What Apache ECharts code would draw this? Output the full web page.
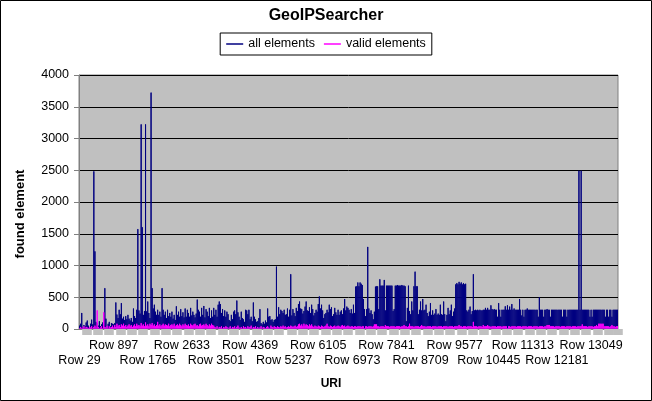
<!DOCTYPE html>
<html>
<head>
<meta charset="utf-8">
<title>GeoIPSearcher</title>
<script src="https://cdn.jsdelivr.net/npm/echarts@6/dist/echarts.min.js"></script>
<style>
    html, body { margin: 0; padding: 0; background: #fff; }
    #chart { width: 652px; height: 401px; }
</style>
</head>
<body>
<div id="chart"></div>
<script>
var FONT = '"Liberation Sans", Arial, sans-serif';

// each plotted column stands for 28 spreadsheet rows, starting at row 29
var firstRow = 29;
var rowStep = 28;

var tickLabels = ['Row 29', 'Row 897', 'Row 1765', 'Row 2633', 'Row 3501', 'Row 4369',
    'Row 5237', 'Row 6105', 'Row 6973', 'Row 7841', 'Row 8709', 'Row 9577',
    'Row 10445', 'Row 11313', 'Row 12181', 'Row 13049'];

var allElements = [
    60, 90, 260, 40, 70, 50, 110, 140, 60, 30,
    90, 155, 80, 2490, 1230, 120, 100, 60, 130, 50,
    80, 110, 70, 650, 170, 60, 90, 120, 50, 100,
    90, 80, 100, 425, 235, 180, 310, 240, 415, 170,
    200, 150, 210, 160, 230, 170, 140, 180, 120, 330,
    210, 180, 310, 1580, 300, 250, 3230, 1610, 230, 290,
    3230, 285, 440, 260, 180, 3730, 650, 330, 390, 280,
    230, 310, 230, 280, 200, 650, 310, 230, 280, 180,
    310, 210, 260, 200, 280, 170, 230, 150, 365, 230,
    280, 200, 320, 210, 270, 190, 330, 200, 310, 260,
    200, 340, 220, 280, 230, 190, 250, 470, 310, 280,
    200, 340, 230, 370, 190, 320, 280, 210, 340, 180,
    300, 200, 340, 230, 310, 200, 390, 440, 400, 260,
    320, 210, 300, 200, 280, 240, 150, 130, 230, 160,
    280, 300, 240, 455, 270, 200, 150, 280, 180, 160,
    120, 310, 300, 240, 310, 160, 200, 130, 425, 200,
    160, 120, 130, 180, 320, 100, 80, 120, 90, 140,
    110, 330, 200, 210, 150, 160, 120, 150, 160, 990,
    200, 350, 240, 310, 290, 260, 310, 230, 240, 330,
    200, 310, 870, 220, 320, 260, 210, 340, 290, 400,
    440, 330, 320, 250, 290, 360, 440, 300, 290, 350,
    260, 390, 320, 220, 260, 310, 280, 400, 520, 330,
    390, 300, 180, 240, 260, 310, 270, 390, 320, 350,
    210, 240, 340, 270, 230, 310, 230, 280, 300, 240,
    330, 480, 300, 360, 340, 310, 260, 320, 250, 390,
    260, 675, 680, 740, 680, 740, 720, 700, 480, 320,
    210, 320, 1300, 330, 260, 300, 240, 160, 280, 675,
    680, 680, 320, 790, 690, 690, 690, 780, 300, 690,
    690, 690, 690, 690, 690, 290, 320, 690, 690, 700,
    690, 690, 690, 700, 690, 690, 680, 130, 340, 690,
    290, 240, 440, 300, 680, 910, 680, 680, 240, 310,
    440, 300, 480, 300, 310, 390, 260, 210, 280, 415,
    230, 300, 230, 250, 320, 230, 250, 230, 390, 240,
    230, 440, 240, 130, 230, 340, 240, 300, 390, 210,
    280, 330, 710, 730, 710, 750, 720, 740, 710, 730,
    710, 720, 300, 280, 310, 360, 240, 290, 870, 300,
    310, 300, 310, 300, 310, 300, 300, 310, 310, 340,
    310, 340, 310, 310, 380, 320, 310, 320, 310, 310,
    200, 415, 310, 200, 310, 310, 310, 365, 310, 380,
    310, 360, 310, 400, 310, 330, 310, 310, 310, 310,
    480, 310, 220, 310, 200, 310, 310, 330, 310, 310,
    310, 310, 310, 310, 310, 310, 310, 200, 505, 310,
    310, 310, 200, 310, 310, 320, 310, 310, 200, 310,
    310, 310, 310, 310, 310, 310, 310, 310, 310, 200,
    310, 310, 310, 200, 310, 310, 310, 310, 310, 310,
    310, 310, 310, 310, 2500, 310, 2500, 310, 310, 310,
    310, 310, 310, 310, 200, 310, 200, 310, 310, 310,
    310, 310, 310, 310, 310, 310, 310, 310, 200, 310,
    310, 200, 310, 310, 200, 310, 310, 310, 310, 310
];

var validElements = [
    20, 40, 10, 30, 50, 20, 40, 30, 10, 40,
    30, 50, 20, 40, 60, 30, 300, 40, 20, 30,
    50, 20, 270, 40, 30, 60, 20, 50, 30, 40,
    60, 30, 70, 40, 90, 50, 70, 40, 80, 60,
    90, 50, 70, 40, 60, 80, 50, 70, 40, 60,
    80, 50, 90, 60, 70, 50, 100, 60, 80, 50,
    110, 60, 80, 50, 90, 70, 100, 60, 80, 50,
    70, 120, 60, 80, 50, 70, 90, 60, 80, 70,
    60, 90, 50, 70, 80, 60, 90, 50, 70, 80,
    60, 90, 70, 50, 80, 60, 90, 70, 60, 80,
    50, 90, 70, 60, 80, 90, 60, 70, 50, 80,
    90, 60, 70, 80, 60, 90, 70, 50, 80, 60,
    90, 70, 60, 40, 30, 50, 20, 40, 30, 50,
    20, 40, 30, 50, 40, 20, 30, 50, 20, 40,
    30, 50, 20, 40, 60, 30, 10, 40, 20, 50,
    30, 40, 20, 50, 30, 40, 60, 20, 40, 30,
    50, 20, 40, 10, 30, 50, 20, 40, 30, 20,
    40, 50, 30, 20, 60, 40, 30, 50, 40, 30,
    50, 40, 30, 50, 40, 60, 40, 50, 30, 40,
    50, 40, 60, 50, 40, 50, 60, 40, 50, 80,
    90, 60, 80, 50, 90, 60, 80, 70, 50, 80,
    60, 80, 50, 40, 60, 50, 40, 60, 50, 40,
    60, 50, 40, 50, 60, 90, 50, 40, 60, 50,
    40, 50, 60, 40, 50, 60, 50, 40, 60, 70,
    50, 60, 40, 50, 60, 50, 40, 50, 50, 40,
    50, 50, 40, 50, 50, 50, 40, 50, 50, 10,
    50, 50, 40, 50, 50, 50, 40, 50, 80, 80,
    80, 50, 50, 40, 50, 50, 50, 40, 70, 50,
    50, 50, 40, 50, 50, 50, 50, 40, 50, 50,
    50, 50, 40, 50, 50, 70, 50, 50, 40, 50,
    90, 50, 50, 50, 40, 50, 50, 50, 50, 40,
    50, 70, 50, 50, 50, 40, 50, 50, 50, 50,
    40, 50, 50, 50, 50, 40, 50, 50, 50, 50,
    40, 50, 50, 50, 50, 40, 50, 50, 50, 50,
    40, 50, 50, 50, 50, 70, 50, 50, 40, 50,
    50, 50, 40, 50, 50, 50, 50, 40, 120, 50,
    50, 50, 40, 50, 50, 50, 40, 70, 50, 50,
    50, 70, 50, 50, 40, 50, 50, 50, 50, 40,
    50, 50, 50, 50, 40, 50, 50, 50, 50, 10,
    50, 50, 40, 50, 50, 50, 50, 40, 50, 50,
    50, 50, 40, 50, 50, 50, 50, 40, 50, 50,
    50, 50, 40, 50, 50, 50, 50, 40, 50, 50,
    50, 50, 40, 50, 50, 70, 70, 70, 50, 50,
    50, 50, 40, 50, 50, 50, 50, 40, 50, 50,
    50, 50, 40, 50, 50, 50, 50, 40, 50, 50,
    50, 50, 40, 50, 50, 50, 50, 80, 50, 50,
    50, 50, 40, 50, 50, 50, 50, 40, 50, 50,
    70, 50, 90, 90, 90, 90, 90, 50, 50, 50,
    50, 50, 40, 50, 70, 50, 50, 40, 50, 50
];

var categories = allElements.map(function(v, i) {
    return 'Row ' + (firstRow + i * rowStep);
});

// labels alternate between two rows under the axis
function labelRow(row) {
    return function(index, value) {
        var k = tickLabels.indexOf(value);
        return k >= 0 && k % 2 === row;
    };
}

var labelStyle = {
    fontFamily: FONT,
    fontSize: 12.5,
    color: '#000',
    showMinLabel: true,
    showMaxLabel: true
};

var chart = echarts.init(document.getElementById('chart'));

var option = {
    animation: false,
    textStyle: { fontFamily: FONT },
    title: {
        text: 'GeoIPSearcher',
        left: 'center',
        top: 8,
        padding: 0,
        textStyle: { fontFamily: FONT, fontSize: 16, fontWeight: 'bold', color: '#000' }
    },
    legend: {
        top: 33,
        left: 'center',
        padding: [4, 6],
        itemGap: 9,
        itemWidth: 17,
        itemHeight: 1.5,
        itemStyle: { borderWidth: 0 },
        borderColor: '#000',
        borderWidth: 1,
        borderRadius: 0,
        backgroundColor: '#fff',
        textStyle: { fontFamily: FONT, fontSize: 12.5, color: '#000', lineHeight: 14 },
        data: [
            { name: 'all elements', icon: 'rect' },
            { name: 'valid elements', icon: 'rect' }
        ]
    },
    grid: {
        left: 79,
        right: 34,
        top: 75,
        bottom: 72,
        show: true,
        backgroundColor: '#c0c0c0',
        borderColor: '#808080',
        borderWidth: 1
    },
    xAxis: [{
        type: 'category',
        data: categories,
        boundaryGap: true,
        axisLine: { show: true, lineStyle: { color: '#808080' } },
        axisTick: {
            show: true,
            length: 6,
            // grey tick blocks, three per labelled step
            interval: function(index) {
                var k = Math.round((index - 6.5) * 3 / 31);
                return k >= 0 && index < 486 && index === Math.round(6.5 + k * 31 / 3);
            },
            lineStyle: { color: '#c0c0c0', width: 9.6 }
        },
        axisLabel: Object.assign({ interval: labelRow(1), margin: 10 }, labelStyle),
        splitLine: { show: false }
    }, {
        type: 'category',
        position: 'bottom',
        gridIndex: 0,
        data: categories,
        boundaryGap: true,
        axisLine: { show: false },
        axisTick: { show: false },
        axisLabel: Object.assign({ interval: labelRow(0), margin: 25.5 }, labelStyle),
        splitLine: { show: false }
    }],
    yAxis: {
        type: 'value',
        min: 0,
        max: 4000,
        interval: 500,
        axisLine: { show: true, lineStyle: { color: '#808080' } },
        axisTick: { show: true, length: 5, lineStyle: { color: '#808080' } },
        axisLabel: {
            margin: 10,
            fontFamily: FONT,
            fontSize: 12.5,
            color: '#000',
            formatter: function(v) { return String(v); }
        },
        splitLine: { show: true, lineStyle: { color: '#000', width: 1 } }
    },
    series: [{
        name: 'all elements',
        type: 'bar',
        xAxisIndex: 0,
        data: allElements,
        barCategoryGap: '0%',
        barGap: '-100%',
        itemStyle: { color: '#000080', borderColor: '#000080', borderWidth: 1 }
    }, {
        name: 'valid elements',
        type: 'bar',
        xAxisIndex: 0,
        data: validElements,
        barCategoryGap: '0%',
        barGap: '-100%',
        itemStyle: { color: '#ff00ff', borderColor: '#ff00ff', borderWidth: 1 }
    }],
    graphic: [{
        type: 'rect',
        silent: true,
        z: 100,
        shape: { x: 0.5, y: 0.5, width: 651, height: 400 },
        style: { fill: 'none', stroke: '#000', lineWidth: 1 }
    }, {
        type: 'text',
        x: 331,
        y: 384,
        style: {
            text: 'URI',
            align: 'center',
            verticalAlign: 'middle',
            fontFamily: FONT,
            fontSize: 12,
            fontWeight: 'bold',
            fill: '#000'
        }
    }, {
        type: 'text',
        x: 20,
        y: 214,
        rotation: Math.PI / 2,
        style: {
            text: 'found element',
            align: 'center',
            verticalAlign: 'middle',
            fontFamily: FONT,
            fontSize: 13,
            fontWeight: 'bold',
            fill: '#000'
        }
    }]
};

chart.setOption(option);
</script>
</body>
</html>
